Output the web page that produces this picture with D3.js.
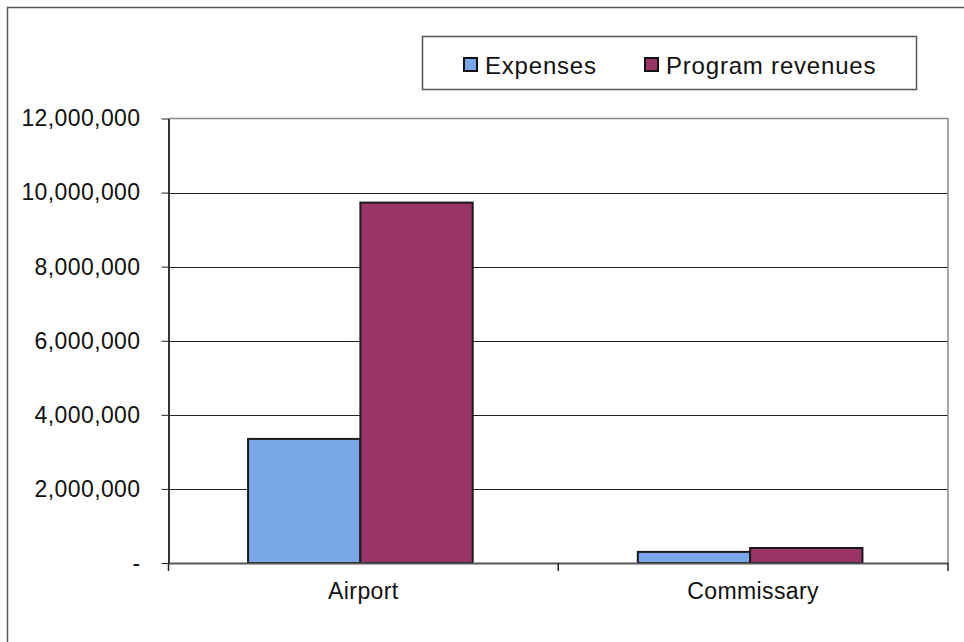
<!DOCTYPE html>
<html>
<head>
<meta charset="utf-8">
<script src="https://cdn.jsdelivr.net/npm/d3@7"></script>
<style>
  html, body { margin: 0; padding: 0; background: #fff; }
  svg { display: block; font-family: "Liberation Sans", Arial, sans-serif; }
</style>
</head>
<body>
<svg id="chart" width="964" height="642"></svg>
<script>
// Business-type activities: expenses vs. program revenues
const categories = ["Airport", "Commissary"];
const seriesNames = ["Expenses", "Program revenues"];
const expenses = [3350000, 300000];
const programRevenues = [9730000, 405000];
const yTicks = [0, 2000000, 4000000, 6000000, 8000000, 10000000, 12000000];
const colors = ["#78a6e6", "#993466"];

const svg = d3.select("#chart");
const margin = { left: 168.5, top: 118.5, right: 948, bottom: 563 };

// outer frame (extends past the right and bottom edges)
svg.append("rect")
  .attr("x", 7.5).attr("y", 7.5)
  .attr("width", 1000).attr("height", 700)
  .attr("fill", "none").attr("stroke", "#555").attr("stroke-width", 1.5);

const x0 = d3.scaleBand().domain(categories)
  .range([margin.left, margin.right]).paddingInner(0).paddingOuter(0);
const x1 = d3.scaleBand().domain(seriesNames)
  .range([-3, x0.bandwidth() - 3]).paddingInner(0).paddingOuter(0.735);
const y = d3.scaleLinear().domain([0, 12000000]).range([margin.bottom, margin.top]);

const fmt = v => v === 0 ? "-" : d3.format(",")(v);

// gridlines
svg.append("g").selectAll("line")
  .data(yTicks.filter(v => v > 0 && v < 12000000))
  .join("line")
  .attr("x1", margin.left).attr("x2", margin.right)
  .attr("y1", d => Math.round(y(d)) + 0.5).attr("y2", d => Math.round(y(d)) + 0.5)
  .attr("stroke", "#222").attr("stroke-width", 1);

// plot area frame (top and right)
svg.append("path")
  .attr("d", `M${margin.left},${margin.top}H${margin.right}V${margin.bottom}`)
  .attr("fill", "none").attr("stroke", "#888").attr("stroke-width", 1.5);

// bars
const data = categories.map((c, i) => ({ cat: c, vals: [expenses[i], programRevenues[i]] }));
const groups = svg.append("g").selectAll("g").data(data).join("g")
  .attr("transform", d => `translate(${x0(d.cat)},0)`);
groups.selectAll("rect")
  .data(d => d.vals.map((v, j) => ({ key: seriesNames[j], v, j })))
  .join("rect")
  .attr("x", d => x1(d.key))
  .attr("y", d => y(d.v))
  .attr("width", x1.bandwidth())
  .attr("height", d => y(0) - y(d.v))
  .attr("fill", d => colors[d.j])
  .attr("stroke", "#1a1a1a").attr("stroke-width", 2);

// y axis
const yAxis = d3.axisLeft(y).tickValues(yTicks).tickFormat(fmt)
  .tickSizeInner(7).tickSizeOuter(0).tickPadding(21);
const gy = svg.append("g").attr("transform", `translate(${margin.left},0)`).call(yAxis);
gy.select(".domain").attr("stroke", "#333").attr("stroke-width", 2);
gy.selectAll(".tick line").attr("stroke", "#222");
gy.selectAll(".tick text").attr("font-size", 23).attr("fill", "#111")
  .attr("font-family", "Liberation Sans, Arial, sans-serif")
  .attr("letter-spacing", 0.4);

// x axis
const xAxis = d3.axisBottom(x0).tickSize(0).tickPadding(20);
const gx = svg.append("g").attr("transform", `translate(0,${margin.bottom})`).call(xAxis);
gx.select(".domain").attr("stroke", "#555").attr("stroke-width", 2);
gx.selectAll(".tick text").attr("font-size", 23).attr("fill", "#111")
  .attr("font-family", "Liberation Sans, Arial, sans-serif")
  .attr("letter-spacing", 0.4);
// category boundary ticks
svg.append("g").selectAll("line")
  .data([...categories.map(c => x0(c)), margin.right])
  .join("line")
  .attr("x1", d => d).attr("x2", d => d)
  .attr("y1", margin.bottom).attr("y2", margin.bottom + 8)
  .attr("stroke", "#222").attr("stroke-width", 1.5);

// legend
const legend = svg.append("g");
legend.append("rect")
  .attr("x", 422.5).attr("y", 36.5).attr("width", 494).attr("height", 53)
  .attr("fill", "#fff").attr("stroke", "#555").attr("stroke-width", 1.5);
const legendX = [464, 645];
seriesNames.forEach((name, i) => {
  legend.append("rect")
    .attr("x", legendX[i]).attr("y", 58).attr("width", 13).attr("height", 13)
    .attr("fill", colors[i]).attr("stroke", "#111").attr("stroke-width", 2);
  legend.append("text")
    .attr("x", legendX[i] + 21).attr("y", 74)
    .attr("font-size", 24).attr("fill", "#111").attr("letter-spacing", 0.8)
    .text(name);
});
</script>
</body>
</html>
